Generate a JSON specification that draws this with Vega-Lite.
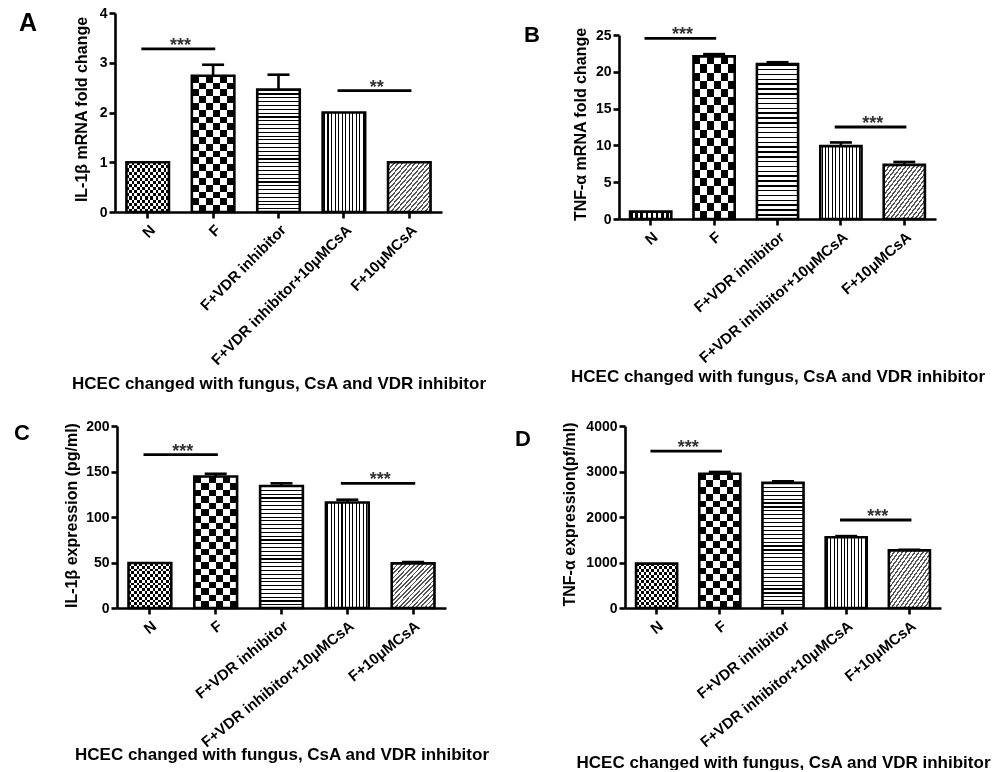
{
"$schema": "https://vega.github.io/schema/vega-lite/v6.json",
"padding": {"left": 14, "top": 6, "right": 0, "bottom": 0},
"background": "white",
"columns": 2,
"spacing": {"row": 207, "column": 173},
"bounds": "flush",
"align": "all",
"params": [
 {"name": "FX", "value": {"gradient":"linear","x1":0,"y1":0,"x2":1,"y2":0,"stops":[{"offset":0,"color":"#000"},{"offset":0.0625,"color":"#000"},{"offset":0.0625,"color":"#fff"},{"offset":0.125,"color":"#fff"},{"offset":0.125,"color":"#000"},{"offset":0.1875,"color":"#000"},{"offset":0.1875,"color":"#fff"},{"offset":0.25,"color":"#fff"},{"offset":0.25,"color":"#000"},{"offset":0.3125,"color":"#000"},{"offset":0.3125,"color":"#fff"},{"offset":0.375,"color":"#fff"},{"offset":0.375,"color":"#000"},{"offset":0.4375,"color":"#000"},{"offset":0.4375,"color":"#fff"},{"offset":0.5,"color":"#fff"},{"offset":0.5,"color":"#000"},{"offset":0.5625,"color":"#000"},{"offset":0.5625,"color":"#fff"},{"offset":0.625,"color":"#fff"},{"offset":0.625,"color":"#000"},{"offset":0.6875,"color":"#000"},{"offset":0.6875,"color":"#fff"},{"offset":0.75,"color":"#fff"},{"offset":0.75,"color":"#000"},{"offset":0.8125,"color":"#000"},{"offset":0.8125,"color":"#fff"},{"offset":0.875,"color":"#fff"},{"offset":0.875,"color":"#000"},{"offset":0.9375,"color":"#000"},{"offset":0.9375,"color":"#fff"},{"offset":1,"color":"#fff"}]}},
 {"name": "FY", "value": {"gradient":"linear","x1":0,"y1":0,"x2":0,"y2":1,"stops":[{"offset":0,"color":"#000"},{"offset":0.0625,"color":"#000"},{"offset":0.0625,"color":"#fff"},{"offset":0.125,"color":"#fff"},{"offset":0.125,"color":"#000"},{"offset":0.1875,"color":"#000"},{"offset":0.1875,"color":"#fff"},{"offset":0.25,"color":"#fff"},{"offset":0.25,"color":"#000"},{"offset":0.3125,"color":"#000"},{"offset":0.3125,"color":"#fff"},{"offset":0.375,"color":"#fff"},{"offset":0.375,"color":"#000"},{"offset":0.4375,"color":"#000"},{"offset":0.4375,"color":"#fff"},{"offset":0.5,"color":"#fff"},{"offset":0.5,"color":"#000"},{"offset":0.5625,"color":"#000"},{"offset":0.5625,"color":"#fff"},{"offset":0.625,"color":"#fff"},{"offset":0.625,"color":"#000"},{"offset":0.6875,"color":"#000"},{"offset":0.6875,"color":"#fff"},{"offset":0.75,"color":"#fff"},{"offset":0.75,"color":"#000"},{"offset":0.8125,"color":"#000"},{"offset":0.8125,"color":"#fff"},{"offset":0.875,"color":"#fff"},{"offset":0.875,"color":"#000"},{"offset":0.9375,"color":"#000"},{"offset":0.9375,"color":"#fff"},{"offset":1,"color":"#fff"}]}},
 {"name": "CX", "value": {"gradient":"linear","x1":0,"y1":0,"x2":1,"y2":0,"stops":[{"offset":0,"color":"#000"},{"offset":0.1667,"color":"#000"},{"offset":0.1667,"color":"#fff"},{"offset":0.3333,"color":"#fff"},{"offset":0.3333,"color":"#000"},{"offset":0.5,"color":"#000"},{"offset":0.5,"color":"#fff"},{"offset":0.6667,"color":"#fff"},{"offset":0.6667,"color":"#000"},{"offset":0.8333,"color":"#000"},{"offset":0.8333,"color":"#fff"},{"offset":1,"color":"#fff"}]}},
 {"name": "CY", "value": {"gradient":"linear","x1":0,"y1":0,"x2":0,"y2":1,"stops":[{"offset":0,"color":"#000"},{"offset":0.05,"color":"#000"},{"offset":0.05,"color":"#fff"},{"offset":0.1,"color":"#fff"},{"offset":0.1,"color":"#000"},{"offset":0.15,"color":"#000"},{"offset":0.15,"color":"#fff"},{"offset":0.2,"color":"#fff"},{"offset":0.2,"color":"#000"},{"offset":0.25,"color":"#000"},{"offset":0.25,"color":"#fff"},{"offset":0.3,"color":"#fff"},{"offset":0.3,"color":"#000"},{"offset":0.35,"color":"#000"},{"offset":0.35,"color":"#fff"},{"offset":0.4,"color":"#fff"},{"offset":0.4,"color":"#000"},{"offset":0.45,"color":"#000"},{"offset":0.45,"color":"#fff"},{"offset":0.5,"color":"#fff"},{"offset":0.5,"color":"#000"},{"offset":0.55,"color":"#000"},{"offset":0.55,"color":"#fff"},{"offset":0.6,"color":"#fff"},{"offset":0.6,"color":"#000"},{"offset":0.65,"color":"#000"},{"offset":0.65,"color":"#fff"},{"offset":0.7,"color":"#fff"},{"offset":0.7,"color":"#000"},{"offset":0.75,"color":"#000"},{"offset":0.75,"color":"#fff"},{"offset":0.8,"color":"#fff"},{"offset":0.8,"color":"#000"},{"offset":0.85,"color":"#000"},{"offset":0.85,"color":"#fff"},{"offset":0.9,"color":"#fff"},{"offset":0.9,"color":"#000"},{"offset":0.95,"color":"#000"},{"offset":0.95,"color":"#fff"},{"offset":1,"color":"#fff"}]}},
 {"name": "HS", "value": {"gradient":"linear","x1":0,"y1":0,"x2":0,"y2":1,"stops":[{"offset":0,"color":"#000"},{"offset":0.009375,"color":"#000"},{"offset":0.009375,"color":"#fff"},{"offset":0.03125,"color":"#fff"},{"offset":0.03125,"color":"#000"},{"offset":0.040625,"color":"#000"},{"offset":0.040625,"color":"#fff"},{"offset":0.0625,"color":"#fff"},{"offset":0.0625,"color":"#000"},{"offset":0.071875,"color":"#000"},{"offset":0.071875,"color":"#fff"},{"offset":0.09375,"color":"#fff"},{"offset":0.09375,"color":"#000"},{"offset":0.103125,"color":"#000"},{"offset":0.103125,"color":"#fff"},{"offset":0.125,"color":"#fff"},{"offset":0.125,"color":"#000"},{"offset":0.134375,"color":"#000"},{"offset":0.134375,"color":"#fff"},{"offset":0.15625,"color":"#fff"},{"offset":0.15625,"color":"#000"},{"offset":0.165625,"color":"#000"},{"offset":0.165625,"color":"#fff"},{"offset":0.1875,"color":"#fff"},{"offset":0.1875,"color":"#000"},{"offset":0.196875,"color":"#000"},{"offset":0.196875,"color":"#fff"},{"offset":0.21875,"color":"#fff"},{"offset":0.21875,"color":"#000"},{"offset":0.228125,"color":"#000"},{"offset":0.228125,"color":"#fff"},{"offset":0.25,"color":"#fff"},{"offset":0.25,"color":"#000"},{"offset":0.259375,"color":"#000"},{"offset":0.259375,"color":"#fff"},{"offset":0.28125,"color":"#fff"},{"offset":0.28125,"color":"#000"},{"offset":0.290625,"color":"#000"},{"offset":0.290625,"color":"#fff"},{"offset":0.3125,"color":"#fff"},{"offset":0.3125,"color":"#000"},{"offset":0.321875,"color":"#000"},{"offset":0.321875,"color":"#fff"},{"offset":0.34375,"color":"#fff"},{"offset":0.34375,"color":"#000"},{"offset":0.353125,"color":"#000"},{"offset":0.353125,"color":"#fff"},{"offset":0.375,"color":"#fff"},{"offset":0.375,"color":"#000"},{"offset":0.384375,"color":"#000"},{"offset":0.384375,"color":"#fff"},{"offset":0.40625,"color":"#fff"},{"offset":0.40625,"color":"#000"},{"offset":0.415625,"color":"#000"},{"offset":0.415625,"color":"#fff"},{"offset":0.4375,"color":"#fff"},{"offset":0.4375,"color":"#000"},{"offset":0.446875,"color":"#000"},{"offset":0.446875,"color":"#fff"},{"offset":0.46875,"color":"#fff"},{"offset":0.46875,"color":"#000"},{"offset":0.478125,"color":"#000"},{"offset":0.478125,"color":"#fff"},{"offset":0.5,"color":"#fff"},{"offset":0.5,"color":"#000"},{"offset":0.509375,"color":"#000"},{"offset":0.509375,"color":"#fff"},{"offset":0.53125,"color":"#fff"},{"offset":0.53125,"color":"#000"},{"offset":0.540625,"color":"#000"},{"offset":0.540625,"color":"#fff"},{"offset":0.5625,"color":"#fff"},{"offset":0.5625,"color":"#000"},{"offset":0.571875,"color":"#000"},{"offset":0.571875,"color":"#fff"},{"offset":0.59375,"color":"#fff"},{"offset":0.59375,"color":"#000"},{"offset":0.603125,"color":"#000"},{"offset":0.603125,"color":"#fff"},{"offset":0.625,"color":"#fff"},{"offset":0.625,"color":"#000"},{"offset":0.634375,"color":"#000"},{"offset":0.634375,"color":"#fff"},{"offset":0.65625,"color":"#fff"},{"offset":0.65625,"color":"#000"},{"offset":0.665625,"color":"#000"},{"offset":0.665625,"color":"#fff"},{"offset":0.6875,"color":"#fff"},{"offset":0.6875,"color":"#000"},{"offset":0.696875,"color":"#000"},{"offset":0.696875,"color":"#fff"},{"offset":0.71875,"color":"#fff"},{"offset":0.71875,"color":"#000"},{"offset":0.728125,"color":"#000"},{"offset":0.728125,"color":"#fff"},{"offset":0.75,"color":"#fff"},{"offset":0.75,"color":"#000"},{"offset":0.759375,"color":"#000"},{"offset":0.759375,"color":"#fff"},{"offset":0.78125,"color":"#fff"},{"offset":0.78125,"color":"#000"},{"offset":0.790625,"color":"#000"},{"offset":0.790625,"color":"#fff"},{"offset":0.8125,"color":"#fff"},{"offset":0.8125,"color":"#000"},{"offset":0.821875,"color":"#000"},{"offset":0.821875,"color":"#fff"},{"offset":0.84375,"color":"#fff"},{"offset":0.84375,"color":"#000"},{"offset":0.853125,"color":"#000"},{"offset":0.853125,"color":"#fff"},{"offset":0.875,"color":"#fff"},{"offset":0.875,"color":"#000"},{"offset":0.884375,"color":"#000"},{"offset":0.884375,"color":"#fff"},{"offset":0.90625,"color":"#fff"},{"offset":0.90625,"color":"#000"},{"offset":0.915625,"color":"#000"},{"offset":0.915625,"color":"#fff"},{"offset":0.9375,"color":"#fff"},{"offset":0.9375,"color":"#000"},{"offset":0.946875,"color":"#000"},{"offset":0.946875,"color":"#fff"},{"offset":0.96875,"color":"#fff"},{"offset":0.96875,"color":"#000"},{"offset":0.978125,"color":"#000"},{"offset":0.978125,"color":"#fff"},{"offset":1,"color":"#fff"}]}},
 {"name": "VS", "value": {"gradient":"linear","x1":0,"y1":0,"x2":1,"y2":0,"stops":[{"offset":0,"color":"#fff"},{"offset":0.03,"color":"#fff"},{"offset":0.03,"color":"#000"},{"offset":0.055,"color":"#000"},{"offset":0.055,"color":"#fff"},{"offset":0.1133,"color":"#fff"},{"offset":0.1133,"color":"#000"},{"offset":0.1383,"color":"#000"},{"offset":0.1383,"color":"#fff"},{"offset":0.1967,"color":"#fff"},{"offset":0.1967,"color":"#000"},{"offset":0.2217,"color":"#000"},{"offset":0.2217,"color":"#fff"},{"offset":0.28,"color":"#fff"},{"offset":0.28,"color":"#000"},{"offset":0.305,"color":"#000"},{"offset":0.305,"color":"#fff"},{"offset":0.3633,"color":"#fff"},{"offset":0.3633,"color":"#000"},{"offset":0.3883,"color":"#000"},{"offset":0.3883,"color":"#fff"},{"offset":0.4467,"color":"#fff"},{"offset":0.4467,"color":"#000"},{"offset":0.4717,"color":"#000"},{"offset":0.4717,"color":"#fff"},{"offset":0.53,"color":"#fff"},{"offset":0.53,"color":"#000"},{"offset":0.555,"color":"#000"},{"offset":0.555,"color":"#fff"},{"offset":0.6133,"color":"#fff"},{"offset":0.6133,"color":"#000"},{"offset":0.6383,"color":"#000"},{"offset":0.6383,"color":"#fff"},{"offset":0.6967,"color":"#fff"},{"offset":0.6967,"color":"#000"},{"offset":0.7217,"color":"#000"},{"offset":0.7217,"color":"#fff"},{"offset":0.78,"color":"#fff"},{"offset":0.78,"color":"#000"},{"offset":0.805,"color":"#000"},{"offset":0.805,"color":"#fff"},{"offset":0.8633,"color":"#fff"},{"offset":0.8633,"color":"#000"},{"offset":0.8883,"color":"#000"},{"offset":0.8883,"color":"#fff"},{"offset":0.9467,"color":"#fff"},{"offset":0.9467,"color":"#000"},{"offset":0.9717,"color":"#000"},{"offset":0.9717,"color":"#fff"},{"offset":1,"color":"#fff"}]}},
 {"name": "DG", "value": {"gradient":"linear","x1":0,"y1":0,"x2":1,"y2":1,"stops":[{"offset":0,"color":"#fff"},{"offset":0.02,"color":"#fff"},{"offset":0.02,"color":"#555"},{"offset":0.04,"color":"#555"},{"offset":0.04,"color":"#fff"},{"offset":0.07,"color":"#fff"},{"offset":0.07,"color":"#555"},{"offset":0.09,"color":"#555"},{"offset":0.09,"color":"#fff"},{"offset":0.12,"color":"#fff"},{"offset":0.12,"color":"#555"},{"offset":0.14,"color":"#555"},{"offset":0.14,"color":"#fff"},{"offset":0.17,"color":"#fff"},{"offset":0.17,"color":"#555"},{"offset":0.19,"color":"#555"},{"offset":0.19,"color":"#fff"},{"offset":0.22,"color":"#fff"},{"offset":0.22,"color":"#555"},{"offset":0.24,"color":"#555"},{"offset":0.24,"color":"#fff"},{"offset":0.27,"color":"#fff"},{"offset":0.27,"color":"#555"},{"offset":0.29,"color":"#555"},{"offset":0.29,"color":"#fff"},{"offset":0.32,"color":"#fff"},{"offset":0.32,"color":"#555"},{"offset":0.34,"color":"#555"},{"offset":0.34,"color":"#fff"},{"offset":0.37,"color":"#fff"},{"offset":0.37,"color":"#555"},{"offset":0.39,"color":"#555"},{"offset":0.39,"color":"#fff"},{"offset":0.42,"color":"#fff"},{"offset":0.42,"color":"#555"},{"offset":0.44,"color":"#555"},{"offset":0.44,"color":"#fff"},{"offset":0.47,"color":"#fff"},{"offset":0.47,"color":"#555"},{"offset":0.49,"color":"#555"},{"offset":0.49,"color":"#fff"},{"offset":0.52,"color":"#fff"},{"offset":0.52,"color":"#555"},{"offset":0.54,"color":"#555"},{"offset":0.54,"color":"#fff"},{"offset":0.57,"color":"#fff"},{"offset":0.57,"color":"#555"},{"offset":0.59,"color":"#555"},{"offset":0.59,"color":"#fff"},{"offset":0.62,"color":"#fff"},{"offset":0.62,"color":"#555"},{"offset":0.64,"color":"#555"},{"offset":0.64,"color":"#fff"},{"offset":0.67,"color":"#fff"},{"offset":0.67,"color":"#555"},{"offset":0.69,"color":"#555"},{"offset":0.69,"color":"#fff"},{"offset":0.72,"color":"#fff"},{"offset":0.72,"color":"#555"},{"offset":0.74,"color":"#555"},{"offset":0.74,"color":"#fff"},{"offset":0.77,"color":"#fff"},{"offset":0.77,"color":"#555"},{"offset":0.79,"color":"#555"},{"offset":0.79,"color":"#fff"},{"offset":0.82,"color":"#fff"},{"offset":0.82,"color":"#555"},{"offset":0.84,"color":"#555"},{"offset":0.84,"color":"#fff"},{"offset":0.87,"color":"#fff"},{"offset":0.87,"color":"#555"},{"offset":0.89,"color":"#555"},{"offset":0.89,"color":"#fff"},{"offset":0.92,"color":"#fff"},{"offset":0.92,"color":"#555"},{"offset":0.94,"color":"#555"},{"offset":0.94,"color":"#fff"},{"offset":0.97,"color":"#fff"},{"offset":0.97,"color":"#555"},{"offset":0.99,"color":"#555"},{"offset":0.99,"color":"#fff"},{"offset":1,"color":"#fff"}]}}
],
"datasets": {
 "dA": [{"g":"N","v":1},{"g":"F","v":2.74},{"g":"F+VDR inhibitor","v":2.46},{"g":"F+VDR inhibitor+10μMCsA","v":2.0},{"g":"F+10μMCsA","v":1.0}],
 "eA": [{"g":"F","v":2.96,"lo":2.74},{"g":"F+VDR inhibitor","v":2.76,"lo":2.46}],
 "sA": [{"g":"N","g2":"F","v":3.28,"s":"***"},{"g":"F+VDR inhibitor+10μMCsA","g2":"F+10μMCsA","v":2.44,"s":"**"}],
 "dB": [{"g":"N","v":1},{"g":"F","v":22.1},{"g":"F+VDR inhibitor","v":21.05},{"g":"F+VDR inhibitor+10μMCsA","v":9.9},{"g":"F+10μMCsA","v":7.36}],
 "eB": [{"g":"F","v":22.4,"lo":22.1},{"g":"F+VDR inhibitor","v":21.3,"lo":21.05},{"g":"F+VDR inhibitor+10μMCsA","v":10.4,"lo":9.9},{"g":"F+10μMCsA","v":7.75,"lo":7.36}],
 "sB": [{"g":"N","g2":"F","v":24.55,"s":"***"},{"g":"F+VDR inhibitor+10μMCsA","g2":"F+10μMCsA","v":12.5,"s":"***"}],
 "dC": [{"g":"N","v":49.5},{"g":"F","v":144.5},{"g":"F+VDR inhibitor","v":134},{"g":"F+VDR inhibitor+10μMCsA","v":116},{"g":"F+10μMCsA","v":49}],
 "eC": [{"g":"F","v":147.5,"lo":144.5},{"g":"F+VDR inhibitor","v":137,"lo":134},{"g":"F+VDR inhibitor+10μMCsA","v":119,"lo":116},{"g":"F+10μMCsA","v":50.5,"lo":49}],
 "sC": [{"g":"N","g2":"F","v":168.5,"s":"***"},{"g":"F+VDR inhibitor+10μMCsA","g2":"F+10μMCsA","v":137,"s":"***"}],
 "dD": [{"g":"N","v":975},{"g":"F","v":2950},{"g":"F+VDR inhibitor","v":2750},{"g":"F+VDR inhibitor+10μMCsA","v":1555},{"g":"F+10μMCsA","v":1266}],
 "eD": [{"g":"F","v":2990,"lo":2950},{"g":"F+VDR inhibitor","v":2785,"lo":2750},{"g":"F+VDR inhibitor+10μMCsA","v":1580,"lo":1555},{"g":"F+10μMCsA","v":1280,"lo":1266}],
 "sD": [{"g":"N","g2":"F","v":3450,"s":"***"},{"g":"F+VDR inhibitor+10μMCsA","g2":"F+10μMCsA","v":1934,"s":"***"}]
},
"concat": [
 {
  "width": 331, "height": 206,
  "title": {"text":"A","anchor":"start","frame":"group","fontSize":25,"fontWeight":"bold","color":"black","baseline":"alphabetic","offset":0,"dx":-96,"dy":50},
  "data": {"name":"dA"},
  "encoding": {
   "x": {"field":"g","type":"nominal","title":"HCEC changed with fungus, CsA and VDR inhibitor","scale":{"domain":["N","F","F+VDR inhibitor","F+VDR inhibitor+10μMCsA","F+10μMCsA"],"range":[0,327],"paddingInner":0.35,"paddingOuter":0.175},"axis":{"offset":-7,"titleY":176,"titleBaseline":"alphabetic"}},
   "y": {"field":"v","type":"quantitative","title":"IL-1β mRNA fold change","scale":{"domain":[0,4],"range":[199,0],"nice":false},"axis":{"values":[0,1,2,3,4],"titleX":-34,"titleY":96,"titleBaseline":"middle"}}
  },
  "layer": [
   {"transform":[{"filter":"datum.g==='N'"}],"mark":{"type":"bar","fill":{"expr":"FX"}}},
   {"transform":[{"filter":"datum.g==='N'"}],"mark":{"type":"bar","fill":{"expr":"FY"},"blend":"difference"}},
   {"transform":[{"filter":"datum.g==='F'"}],"mark":{"type":"bar","fill":{"expr":"CX"}}},
   {"transform":[{"filter":"datum.g==='F'"}],"mark":{"type":"bar","fill":{"expr":"CY"},"blend":"difference"}},
   {"transform":[{"filter":"datum.g==='F+VDR inhibitor'"}],"mark":{"type":"bar","fill":{"expr":"HS"}}},
   {"transform":[{"filter":"datum.g==='F+VDR inhibitor+10μMCsA'"}],"mark":{"type":"bar","fill":{"expr":"VS"}}},
   {"transform":[{"filter":"datum.g==='F+10μMCsA'"}],"mark":{"type":"bar","fill":{"expr":"DG"}}},
   {"mark":{"type":"bar","fill":"transparent","stroke":"black","strokeWidth":2.6}},
   {"data":{"name":"eA"},"mark":{"type":"rule","color":"black","strokeWidth":2.6},"encoding":{"y2":{"field":"lo"}}},
   {"data":{"name":"eA"},"mark":{"type":"tick","color":"black","size":22,"thickness":2.6,"opacity":1}},
   {"data":{"name":"sA"},"mark":{"type":"rule","color":"black","strokeWidth":2.8},"encoding":{"x":{"field":"g","type":"nominal","title":"HCEC changed with fungus, CsA and VDR inhibitor","bandPosition":0.35,"axis":{"offset":-7,"titleY":176,"titleBaseline":"alphabetic"}},"x2":{"field":"g2","bandPosition":0.55}}},
   {"data":{"name":"sA"},"mark":{"type":"text","fontSize":18,"fontWeight":"bold","color":"#333","baseline":"alphabetic","dy":2},"encoding":{"x":{"field":"g","type":"nominal","title":"HCEC changed with fungus, CsA and VDR inhibitor","bandPosition":1.27,"axis":{"offset":-7,"titleY":176,"titleBaseline":"alphabetic"}},"text":{"field":"s"}}}
  ]
 },
 {
  "width": 322, "height": 206,
  "title": {"text":"B","anchor":"start","frame":"group","fontSize":22,"fontWeight":"bold","color":"black","baseline":"alphabetic","offset":0,"dx":-95,"dy":51},
  "data": {"name":"dB"},
  "encoding": {
   "x": {"field":"g","type":"nominal","title":"HCEC changed with fungus, CsA and VDR inhibitor","scale":{"domain":["N","F","F+VDR inhibitor","F+VDR inhibitor+10μMCsA","F+10μMCsA"],"range":[0,317],"paddingInner":0.35,"paddingOuter":0.175},"axis":{"labelAngle":-41,"titleY":162,"titleBaseline":"alphabetic"}},
   "y": {"field":"v","type":"quantitative","title":"TNF-α mRNA fold change","scale":{"domain":[0,25],"range":[206,22],"nice":false},"axis":{"values":[0,5,10,15,20,25],"titleX":-39,"titleY":111,"titleBaseline":"middle"}}
  },
  "layer": [
   {"transform":[{"filter":"datum.g==='N'"}],"mark":{"type":"bar","fill":{"expr":"FX"}}},
   {"transform":[{"filter":"datum.g==='N'"}],"mark":{"type":"bar","fill":{"expr":"FY"},"blend":"difference"}},
   {"transform":[{"filter":"datum.g==='F'"}],"mark":{"type":"bar","fill":{"expr":"CX"}}},
   {"transform":[{"filter":"datum.g==='F'"}],"mark":{"type":"bar","fill":{"expr":"CY"},"blend":"difference"}},
   {"transform":[{"filter":"datum.g==='F+VDR inhibitor'"}],"mark":{"type":"bar","fill":{"expr":"HS"}}},
   {"transform":[{"filter":"datum.g==='F+VDR inhibitor+10μMCsA'"}],"mark":{"type":"bar","fill":{"expr":"VS"}}},
   {"transform":[{"filter":"datum.g==='F+10μMCsA'"}],"mark":{"type":"bar","fill":{"expr":"DG"}}},
   {"mark":{"type":"bar","fill":"transparent","stroke":"black","strokeWidth":2.6}},
   {"data":{"name":"eB"},"mark":{"type":"rule","color":"black","strokeWidth":2.6},"encoding":{"y2":{"field":"lo"}}},
   {"data":{"name":"eB"},"mark":{"type":"tick","color":"black","size":22,"thickness":2.6,"opacity":1}},
   {"data":{"name":"sB"},"mark":{"type":"rule","color":"black","strokeWidth":2.8},"encoding":{"x":{"field":"g","type":"nominal","title":"HCEC changed with fungus, CsA and VDR inhibitor","bandPosition":0.35,"axis":{"labelAngle":-41,"titleY":162,"titleBaseline":"alphabetic"}},"x2":{"field":"g2","bandPosition":0.55}}},
   {"data":{"name":"sB"},"mark":{"type":"text","fontSize":18,"fontWeight":"bold","color":"#333","baseline":"alphabetic","dy":2},"encoding":{"x":{"field":"g","type":"nominal","title":"HCEC changed with fungus, CsA and VDR inhibitor","bandPosition":1.27,"axis":{"labelAngle":-41,"titleY":162,"titleBaseline":"alphabetic"}},"text":{"field":"s"}}}
  ]
 },
 {
  "width": 331, "height": 182,
  "title": {"text":"C","anchor":"start","frame":"group","fontSize":22,"fontWeight":"bold","color":"black","baseline":"alphabetic","offset":0,"dx":-101,"dy":43},
  "data": {"name":"dC"},
  "encoding": {
   "x": {"field":"g","type":"nominal","title":"HCEC changed with fungus, CsA and VDR inhibitor","scale":{"domain":["N","F","F+VDR inhibitor","F+VDR inhibitor+10μMCsA","F+10μMCsA"],"range":[2,331],"paddingInner":0.35,"paddingOuter":0.175},"axis":{"labelAngle":-39,"titleY":151,"titleBaseline":"alphabetic"}},
   "y": {"field":"v","type":"quantitative","title":"IL-1β expression (pg/ml)","scale":{"domain":[0,200],"nice":false},"axis":{"offset":-2,"values":[0,50,100,150,200],"titleX":-46,"titleY":89,"titleBaseline":"middle"}}
  },
  "layer": [
   {"transform":[{"filter":"datum.g==='N'"}],"mark":{"type":"bar","fill":{"expr":"FX"}}},
   {"transform":[{"filter":"datum.g==='N'"}],"mark":{"type":"bar","fill":{"expr":"FY"},"blend":"difference"}},
   {"transform":[{"filter":"datum.g==='F'"}],"mark":{"type":"bar","fill":{"expr":"CX"}}},
   {"transform":[{"filter":"datum.g==='F'"}],"mark":{"type":"bar","fill":{"expr":"CY"},"blend":"difference"}},
   {"transform":[{"filter":"datum.g==='F+VDR inhibitor'"}],"mark":{"type":"bar","fill":{"expr":"HS"}}},
   {"transform":[{"filter":"datum.g==='F+VDR inhibitor+10μMCsA'"}],"mark":{"type":"bar","fill":{"expr":"VS"}}},
   {"transform":[{"filter":"datum.g==='F+10μMCsA'"}],"mark":{"type":"bar","fill":{"expr":"DG"}}},
   {"mark":{"type":"bar","fill":"transparent","stroke":"black","strokeWidth":2.6}},
   {"data":{"name":"eC"},"mark":{"type":"rule","color":"black","strokeWidth":2.6},"encoding":{"y2":{"field":"lo"}}},
   {"data":{"name":"eC"},"mark":{"type":"tick","color":"black","size":22,"thickness":2.6,"opacity":1}},
   {"data":{"name":"sC"},"mark":{"type":"rule","color":"black","strokeWidth":2.8},"encoding":{"x":{"field":"g","type":"nominal","title":"HCEC changed with fungus, CsA and VDR inhibitor","bandPosition":0.35,"axis":{"labelAngle":-39,"titleY":151,"titleBaseline":"alphabetic"}},"x2":{"field":"g2","bandPosition":0.55}}},
   {"data":{"name":"sC"},"mark":{"type":"text","fontSize":18,"fontWeight":"bold","color":"#333","baseline":"alphabetic","dy":2},"encoding":{"x":{"field":"g","type":"nominal","title":"HCEC changed with fungus, CsA and VDR inhibitor","bandPosition":1.27,"axis":{"labelAngle":-39,"titleY":151,"titleBaseline":"alphabetic"}},"text":{"field":"s"}}}
  ]
 },
 {
  "width": 322, "height": 182,
  "title": {"text":"D","anchor":"start","frame":"group","fontSize":22,"fontWeight":"bold","color":"black","baseline":"alphabetic","offset":0,"dx":-104,"dy":49},
  "data": {"name":"dD"},
  "encoding": {
   "x": {"field":"g","type":"nominal","title":"HCEC changed with fungus, CsA and VDR inhibitor","scale":{"domain":["N","F","F+VDR inhibitor","F+VDR inhibitor+10μMCsA","F+10μMCsA"],"range":[6,322],"paddingInner":0.35,"paddingOuter":0.175},"axis":{"labelAngle":-39,"titleY":159,"titleBaseline":"alphabetic"}},
   "y": {"field":"v","type":"quantitative","title":"TNF-α expression(pf/ml)","scale":{"domain":[0,4000],"nice":false},"axis":{"offset":-6,"values":[0,1000,2000,3000,4000],"format":"d","titleX":-56,"titleY":88,"titleBaseline":"middle"}}
  },
  "layer": [
   {"transform":[{"filter":"datum.g==='N'"}],"mark":{"type":"bar","fill":{"expr":"FX"}}},
   {"transform":[{"filter":"datum.g==='N'"}],"mark":{"type":"bar","fill":{"expr":"FY"},"blend":"difference"}},
   {"transform":[{"filter":"datum.g==='F'"}],"mark":{"type":"bar","fill":{"expr":"CX"}}},
   {"transform":[{"filter":"datum.g==='F'"}],"mark":{"type":"bar","fill":{"expr":"CY"},"blend":"difference"}},
   {"transform":[{"filter":"datum.g==='F+VDR inhibitor'"}],"mark":{"type":"bar","fill":{"expr":"HS"}}},
   {"transform":[{"filter":"datum.g==='F+VDR inhibitor+10μMCsA'"}],"mark":{"type":"bar","fill":{"expr":"VS"}}},
   {"transform":[{"filter":"datum.g==='F+10μMCsA'"}],"mark":{"type":"bar","fill":{"expr":"DG"}}},
   {"mark":{"type":"bar","fill":"transparent","stroke":"black","strokeWidth":2.6}},
   {"data":{"name":"eD"},"mark":{"type":"rule","color":"black","strokeWidth":2.6},"encoding":{"y2":{"field":"lo"}}},
   {"data":{"name":"eD"},"mark":{"type":"tick","color":"black","size":22,"thickness":2.6,"opacity":1}},
   {"data":{"name":"sD"},"mark":{"type":"rule","color":"black","strokeWidth":2.8},"encoding":{"x":{"field":"g","type":"nominal","title":"HCEC changed with fungus, CsA and VDR inhibitor","bandPosition":0.35,"axis":{"labelAngle":-39,"titleY":159,"titleBaseline":"alphabetic"}},"x2":{"field":"g2","bandPosition":0.55}}},
   {"data":{"name":"sD"},"mark":{"type":"text","fontSize":18,"fontWeight":"bold","color":"#333","baseline":"alphabetic","dy":2},"encoding":{"x":{"field":"g","type":"nominal","title":"HCEC changed with fungus, CsA and VDR inhibitor","bandPosition":1.27,"axis":{"labelAngle":-39,"titleY":159,"titleBaseline":"alphabetic"}},"text":{"field":"s"}}}
  ]
 }
],
"config": {
 "font": "Liberation Sans",
 "view": {"stroke": null},
 "axis": {"domainColor":"black","domainWidth":2.6,"tickColor":"black","tickWidth":2.6,"tickSize":6,"labelColor":"black","labelFontWeight":"bold","labelFontSize":14,"labelFont":"Liberation Sans","titleColor":"black","titleFont":"Liberation Sans","titleFontWeight":"bold","grid":false,"labelPadding":2},
 "axisX": {"labelAngle":-45,"labelFontSize":15,"titleFontSize":17,"labelLimit":0,"labelPadding":4},
 "axisY": {"titleFontSize":16}
}
}
